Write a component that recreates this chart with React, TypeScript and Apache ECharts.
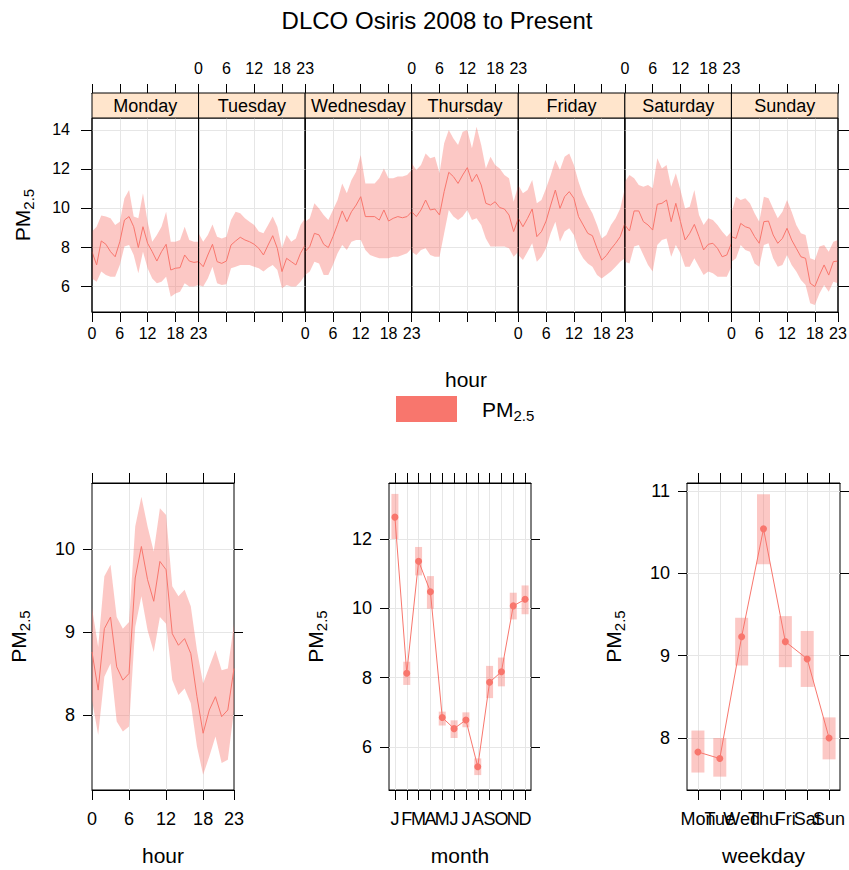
import React, { useEffect, useRef } from 'react';
import * as echarts from 'echarts';

// ---------------- data ----------------
const dayNames = ['Monday', 'Tuesday', 'Wednesday', 'Thursday', 'Friday', 'Saturday', 'Sunday'];
const hourLabels = ['0','1','2','3','4','5','6','7','8','9','10','11','12','13','14','15','16','17','18','19','20','21','22','23'];
const monthLabels = ['J','F','M','A','M','J','J','A','S','O','N','D'];
const monthPos = [1,2,3,4,5,6,7,8,9,10,11,12];
const weekdayLabels = ['Mon','Tue','Wed','Thu','Fri','Sat','Sun'];
const weekdayPos = [1,2,3,4,5,6,7];

const meanMon = [7.76,7.08,8.31,8.14,7.76,7.50,8.27,9.38,9.56,9.04,7.97,9.04,8.19,7.76,7.28,7.76,8.14,6.82,6.91,6.94,7.59,7.28,7.21,7.25];
const hiMon = [8.79,9.04,9.61,9.56,9.47,9.13,9.30,10.50,10.92,9.56,9.47,10.75,9.30,8.27,8.62,9.04,9.81,8.27,8.27,8.36,9.04,8.36,8.27,8.27];
const loMon = [6.39,6.22,6.74,6.56,6.48,6.48,7.08,8.02,8.10,7.59,6.65,7.76,6.91,6.39,6.14,6.22,6.48,5.45,5.62,5.71,6.14,5.97,5.97,6.05];

const meanTue = [7.25,6.99,7.59,8.14,7.25,7.16,7.28,8.10,8.31,8.50,8.36,8.27,8.14,7.93,7.59,8.10,8.58,7.93,6.74,7.42,7.25,7.08,7.68,8.10];
const hiTue = [8.70,8.27,8.62,9.16,8.53,8.44,8.53,9.38,9.81,9.73,9.47,9.30,9.13,8.79,8.70,9.13,9.56,9.04,7.93,8.62,8.27,8.44,9.13,9.47];
const loTue = [6.05,5.97,6.39,6.99,6.14,6.05,6.09,6.91,6.99,7.08,7.08,7.08,6.99,6.91,6.74,6.94,7.08,6.82,5.88,6.05,5.97,5.97,6.22,6.56];

const meanWed = [7.76,8.02,8.70,8.62,8.14,7.97,8.53,9.16,9.85,9.30,9.81,10.15,10.58,9.56,9.56,9.56,9.38,9.90,9.33,9.47,9.56,9.50,9.56,9.81];
const hiWed = [9.30,9.47,10.24,9.98,9.64,9.38,9.90,10.41,11.26,10.75,11.44,11.86,12.72,11.26,11.26,11.26,11.52,12.03,11.52,11.52,11.61,11.61,11.69,11.95];
const loWed = [6.56,6.74,7.25,7.16,6.56,6.56,7.08,7.68,8.10,7.85,8.27,8.36,8.36,7.85,7.59,7.50,7.42,7.42,7.42,7.50,7.50,7.59,7.68,7.93];

const meanThu = [9.81,9.56,9.90,10.41,9.90,9.95,9.64,10.84,11.83,11.61,11.26,11.69,12.07,11.35,11.73,11.18,10.24,10.15,10.32,10.02,9.95,9.64,8.79,9.47];
const hiThu = [12.29,11.95,12.21,12.80,12.55,12.63,11.78,13.32,14.00,13.57,13.23,13.91,14.00,13.06,14.17,13.23,12.03,12.63,12.21,12.03,11.69,11.52,10.32,11.18];
const loThu = [7.76,7.59,7.85,7.93,7.59,7.50,7.50,8.70,9.90,9.56,9.38,9.56,9.90,9.38,9.47,9.13,8.44,8.02,8.02,8.02,8.02,7.93,7.50,7.76];

const meanFri = [9.47,9.04,9.47,9.95,8.53,8.79,9.33,10.15,10.92,9.98,10.58,10.84,10.50,9.56,9.13,8.70,8.58,7.93,7.33,7.56,7.90,8.19,8.53,9.21];
const hiFri = [11.18,10.75,10.92,11.44,10.24,10.41,11.01,11.69,12.46,11.95,12.63,12.80,12.21,11.35,10.67,10.15,9.73,9.13,8.44,8.62,9.13,9.47,9.98,11.01];
const loFri = [7.59,7.33,7.76,8.19,7.25,7.50,7.93,8.70,9.30,8.27,8.79,8.96,8.62,7.85,7.42,7.16,6.99,6.56,6.39,6.56,6.74,6.99,7.25,7.42];

const meanSat = [9.13,8.82,9.85,9.85,9.30,9.13,8.87,10.19,10.24,10.41,9.30,10.24,9.30,8.36,8.70,9.16,8.53,7.85,8.14,8.19,7.93,7.50,7.59,8.19];
const hiSat = [11.35,11.69,11.52,11.18,11.09,11.18,11.01,12.55,12.03,12.21,11.09,11.78,10.92,9.98,10.07,10.92,9.64,9.13,9.47,9.38,9.13,8.79,8.53,8.79];
const loSat = [7.25,7.16,8.02,8.10,7.59,7.08,6.74,8.10,8.36,8.44,7.50,8.10,7.68,6.99,6.99,7.42,6.99,6.56,6.74,6.65,6.48,6.48,6.48,6.99];

const meanSun = [8.53,8.44,9.21,9.04,8.96,8.53,8.19,9.30,9.33,8.62,8.19,8.44,8.96,8.36,7.93,7.50,7.42,6.14,5.97,6.56,7.08,6.56,7.25,7.28];
const hiSun = [9.73,10.58,10.41,10.50,10.24,9.73,9.30,10.58,10.50,9.98,9.47,9.81,10.41,9.81,9.13,8.70,8.62,7.42,7.33,8.02,8.10,7.76,8.27,8.36];
const loSun = [7.25,7.42,8.10,7.85,7.76,7.16,6.99,8.10,8.19,7.42,6.99,7.08,7.59,7.08,6.74,6.31,6.05,5.11,5.03,5.62,6.05,5.71,6.22,6.14];

const hourMean = [8.76,8.30,9.04,9.18,8.58,8.42,8.50,9.65,10.03,9.63,9.37,9.85,9.75,8.98,8.84,8.92,8.74,8.22,7.78,8.06,8.22,7.98,8.06,8.56];
const hourHi = [9.29,8.82,9.67,9.81,9.18,9.04,9.12,10.27,10.63,10.27,9.97,10.49,10.41,9.55,9.43,9.51,9.31,8.78,8.38,8.58,8.78,8.54,8.56,9.10];
const hourLo = [8.18,7.76,8.46,8.62,7.92,7.80,7.86,9.06,9.43,9.02,8.76,9.18,9.10,8.42,8.24,8.32,8.14,7.62,7.28,7.50,7.74,7.42,7.46,8.06];

const monthMean = [12.63,8.13,11.36,10.48,6.85,6.53,6.78,5.43,7.87,8.17,10.07,10.26];
const monthHi = [13.30,8.46,11.77,10.93,7.02,6.77,7.00,5.67,8.34,8.58,10.45,10.66];
const monthLo = [12.00,7.79,10.95,9.99,6.62,6.26,6.57,5.19,7.41,7.75,9.68,9.83];

const weekdayMean = [7.83,7.75,9.23,10.54,9.17,8.96,8.00];
const weekdayHi = [8.09,8.00,9.46,10.96,9.48,9.30,8.25];
const weekdayLo = [7.58,7.53,8.88,10.11,8.86,8.62,7.74];

const topYTicks = [6, 8, 10, 12, 14];
const hourYTicks = [8, 9, 10];
const monthYTicks = [6, 8, 10, 12];
const weekdayYTicks = [8, 9, 10, 11];

const dayMeans = [meanMon, meanTue, meanWed, meanThu, meanFri, meanSat, meanSun];
const dayHis = [hiMon, hiTue, hiWed, hiThu, hiFri, hiSat, hiSun];
const dayLos = [loMon, loTue, loWed, loThu, loFri, loSat, loSun];

// ---------------- style ----------------
const FONT = '"Liberation Sans", Arial, Helvetica, sans-serif';
const LINE = '#F8766D';
const BAND = 'rgba(248,118,109,0.4)';
const GRIDC = '#E6E6E6';
const BLACK = '#000000';

const hourTickFn = (idx: number) => idx % 6 === 0 || idx === 23;
const hourSplitFn = (idx: number) => idx === 6 || idx === 12 || idx === 18;

function pmRich(size: number, sub: number) {
  return {
    m: { fontSize: size, fontFamily: FONT, color: BLACK, lineHeight: size + 6 },
    s: { fontSize: sub, fontFamily: FONT, color: BLACK, lineHeight: sub, verticalAlign: 'bottom' },
  };
}
const PM = '{m|PM}{s|2.5}';

function buildOption() {
  const grids: any[] = [];
  const xAxes: any[] = [];
  const yAxes: any[] = [];
  const series: any[] = [];
  const graphic: any[] = [];

  const tick = (len: number) => ({ show: true, inside: false, length: len, lineStyle: { color: BLACK, width: 1 } });
  const axLine = { show: true, onZero: false, lineStyle: { color: BLACK, width: 1 } };

  // ---- top: day x hour panels ----
  const L = 92, R = 838, TOP = 118, H = 194;
  const W = (R - L) / 7;
  for (let i = 0; i < 7; i++) {
    const gi = grids.length;
    grids.push({ left: L + i * W, top: TOP, width: W, height: H, show: true, borderColor: BLACK, borderWidth: 1,
      backgroundColor: 'transparent', outerBoundsMode: 'none', containLabel: false });
    const xb = xAxes.length;
    xAxes.push({
      gridIndex: gi, type: 'category', data: hourLabels, boundaryGap: false, position: 'bottom',
      axisLine: axLine, axisTick: { ...tick(10), interval: hourTickFn },
      axisLabel: { show: i % 2 === 0, interval: hourTickFn, margin: 13, color: BLACK, fontSize: 16, fontFamily: FONT,
        hideOverlap: false, showMinLabel: true, showMaxLabel: true },
      splitLine: { show: true, interval: hourSplitFn, lineStyle: { color: GRIDC, width: 1 } },
    });
    xAxes.push({
      gridIndex: gi, type: 'category', data: hourLabels, boundaryGap: false, position: 'top', offset: 25,
      axisLine: axLine, axisTick: { ...tick(9), interval: hourTickFn },
      axisLabel: { show: i % 2 === 1, interval: hourTickFn, margin: 17, color: BLACK, fontSize: 16, fontFamily: FONT,
        hideOverlap: false, showMinLabel: true, showMaxLabel: true },
      splitLine: { show: false },
    });
    const yi = yAxes.length;
    yAxes.push({
      gridIndex: gi, type: 'value', min: 4.667, max: 14.615, position: i === 6 ? 'right' : 'left',
      axisLine: { show: false },
      axisTick: { ...tick(11), show: i === 0 || i === 6, customValues: topYTicks },
      axisLabel: { show: i === 0, customValues: topYTicks, margin: 22, color: BLACK, fontSize: 16, fontFamily: FONT,
        showMinLabel: true, showMaxLabel: true },
      splitLine: { show: true, lineStyle: { color: GRIDC, width: 1 } },
      name: i === 0 ? PM : '', nameLocation: 'middle', nameRotate: 90, nameGap: 56,
      nameTextStyle: { rich: pmRich(21, 15) },
    });
    const lo = dayLos[i], hi = dayHis[i], mean = dayMeans[i];
    series.push({ type: 'line', xAxisIndex: xb, yAxisIndex: yi, data: lo, stack: 'band' + i, symbol: 'none',
      lineStyle: { opacity: 0 }, silent: true });
    series.push({ type: 'line', xAxisIndex: xb, yAxisIndex: yi, data: hi.map((v, k) => +(v - lo[k]).toFixed(3)),
      stack: 'band' + i, symbol: 'none', lineStyle: { opacity: 0 }, areaStyle: { color: BAND, opacity: 1 }, silent: true });
    series.push({ type: 'line', xAxisIndex: xb, yAxisIndex: yi, data: mean, symbol: 'none',
      lineStyle: { color: LINE, width: 1 }, silent: true });

    // strip
    graphic.push({ type: 'rect', shape: { x: L + i * W, y: 93, width: W, height: 25 },
      style: { fill: '#FFE5CC', stroke: BLACK, lineWidth: 1 }, z: 10 });
    graphic.push({ type: 'text', x: L + i * W + W / 2, y: 106,
      style: { text: dayNames[i], fill: BLACK, fontSize: 18, fontFamily: FONT, align: 'center', verticalAlign: 'middle' }, z: 11 });
  }
  // black panel separators on top of fills
  for (let i = 0; i <= 7; i++) {
    graphic.push({ type: 'line', shape: { x1: L + i * W, y1: TOP, x2: L + i * W, y2: TOP + H },
      style: { stroke: BLACK, lineWidth: 1 }, z: 12, silent: true });
  }

  // ---- bottom panels ----
  const BT = 483, BH = 307;
  // bottom axis: labelled axis; top axis: mirror (ticks only)
  function addPanel(opt: {
    left: number; width: number; bottom: any; top: any; xName: string;
    ymin: number; ymax: number; yTicks: number[];
  }) {
    const gi = grids.length;
    grids.push({ left: opt.left, top: BT, width: opt.width, height: BH, show: true, borderColor: BLACK, borderWidth: 1,
      backgroundColor: 'transparent', outerBoundsMode: 'none', containLabel: false });
    const xb = xAxes.length;
    xAxes.push({
      gridIndex: gi, position: 'bottom', ...opt.bottom.base,
      axisLine: axLine,
      axisTick: { ...tick(10), ...(opt.bottom.tick || {}) },
      axisLabel: { margin: 20, color: BLACK, fontSize: 18, fontFamily: FONT, hideOverlap: false,
        showMinLabel: true, showMaxLabel: true, ...(opt.bottom.label || {}) },
      splitLine: { show: false, lineStyle: { color: GRIDC, width: 1 }, ...(opt.bottom.split || {}) },
      name: opt.xName, nameLocation: 'middle', nameGap: 55,
      nameTextStyle: { color: BLACK, fontSize: 21, fontFamily: FONT },
    });
    const xt = xAxes.length;
    xAxes.push({
      gridIndex: gi, position: 'top', ...opt.top.base,
      axisLine: axLine,
      axisTick: { ...tick(10), ...(opt.top.tick || {}) },
      axisLabel: { show: false, ...(opt.top.label || {}) },
      splitLine: { show: false, lineStyle: { color: GRIDC, width: 1 }, ...(opt.top.split || {}) },
    });
    const yi = yAxes.length;
    yAxes.push({
      gridIndex: gi, type: 'value', min: opt.ymin, max: opt.ymax, position: 'left',
      axisLine: { show: false },
      axisTick: { ...tick(9), customValues: opt.yTicks },
      axisLabel: { customValues: opt.yTicks, margin: 17, color: BLACK, fontSize: 18, fontFamily: FONT,
        showMinLabel: true, showMaxLabel: true },
      splitLine: { show: true, lineStyle: { color: GRIDC, width: 1 } },
      name: PM, nameLocation: 'middle', nameRotate: 90, nameGap: 60,
      nameTextStyle: { rich: pmRich(21, 15) },
    });
    yAxes.push({
      gridIndex: gi, type: 'value', min: opt.ymin, max: opt.ymax, position: 'right',
      axisLine: { show: false },
      axisTick: { ...tick(9), customValues: opt.yTicks },
      axisLabel: { show: false, customValues: opt.yTicks },
      splitLine: { show: false },
    });
    return { xb, xt, yi };
  }

  // hour panel
  const hourAxis = { type: 'category', data: hourLabels, boundaryGap: false };
  const hp = addPanel({
    left: 92, width: 142, xName: 'hour', ymin: 7.096, ymax: 10.795, yTicks: hourYTicks,
    bottom: { base: hourAxis, tick: { interval: hourTickFn }, label: { interval: hourTickFn },
      split: { show: true, interval: hourSplitFn } },
    top: { base: hourAxis, tick: { interval: hourTickFn } },
  });
  series.push({ type: 'line', xAxisIndex: hp.xb, yAxisIndex: hp.yi, data: hourLo, stack: 'hb', symbol: 'none',
    lineStyle: { opacity: 0 }, silent: true });
  series.push({ type: 'line', xAxisIndex: hp.xb, yAxisIndex: hp.yi, data: hourHi.map((v, k) => +(v - hourLo[k]).toFixed(3)),
    stack: 'hb', symbol: 'none', lineStyle: { opacity: 0 }, areaStyle: { color: BAND, opacity: 1 }, silent: true });
  series.push({ type: 'line', xAxisIndex: hp.xb, yAxisIndex: hp.yi, data: hourMean, symbol: 'none',
    lineStyle: { color: LINE, width: 1 }, silent: true });

  const errBar = (w: number) => (params: any, api: any) => {
    const x = api.value(0);
    const a = api.coord([x, api.value(1)]);
    const b = api.coord([x, api.value(2)]);
    return { type: 'rect', shape: { x: a[0] - w / 2, y: b[1], width: w, height: a[1] - b[1] }, style: { fill: BAND } };
  };

  // month panel: bottom = category axis for labels, top = value axis carrying series & grid lines
  const mp = addPanel({
    left: 389, width: 142, xName: 'month', ymin: 4.76, ymax: 13.615, yTicks: monthYTicks,
    bottom: { base: { type: 'category', data: monthLabels, boundaryGap: true },
      tick: { alignWithLabel: true, interval: 0 }, label: { interval: 0 } },
    top: { base: { type: 'value', min: 0.5, max: 12.5 }, tick: { customValues: monthPos },
      label: { customValues: monthPos }, split: { show: true } },
  });
  series.push({ type: 'custom', xAxisIndex: mp.xt, yAxisIndex: mp.yi, renderItem: errBar(7),
    data: monthPos.map((p, k) => [p, monthLo[k], monthHi[k]]), encode: { x: 0, y: [1, 2] }, silent: true });
  series.push({ type: 'line', xAxisIndex: mp.xt, yAxisIndex: mp.yi, data: monthPos.map((p, k) => [p, monthMean[k]]),
    symbol: 'circle', symbolSize: 7, itemStyle: { color: LINE }, lineStyle: { color: LINE, width: 1 }, silent: true });

  // weekday panel
  const wp = addPanel({
    left: 687, width: 153, xName: 'weekday', ymin: 7.368, ymax: 11.097, yTicks: weekdayYTicks,
    bottom: { base: { type: 'category', data: weekdayLabels, boundaryGap: true },
      tick: { alignWithLabel: true, interval: 0 }, label: { interval: 0 } },
    top: { base: { type: 'value', min: 0.5, max: 7.5 }, tick: { customValues: weekdayPos },
      label: { customValues: weekdayPos }, split: { show: true } },
  });
  series.push({ type: 'custom', xAxisIndex: wp.xt, yAxisIndex: wp.yi, renderItem: errBar(13),
    data: weekdayPos.map((p, k) => [p, weekdayLo[k], weekdayHi[k]]), encode: { x: 0, y: [1, 2] }, silent: true });
  series.push({ type: 'line', xAxisIndex: wp.xt, yAxisIndex: wp.yi, data: weekdayPos.map((p, k) => [p, weekdayMean[k]]),
    symbol: 'circle', symbolSize: 7, itemStyle: { color: LINE }, lineStyle: { color: LINE, width: 1 }, silent: true });

  // title, top x name, legend
  graphic.push({ type: 'text', x: 437, y: 20,
    style: { text: 'DLCO Osiris 2008 to Present', fill: BLACK, fontSize: 24, fontFamily: FONT,
      align: 'center', verticalAlign: 'middle' } });
  graphic.push({ type: 'text', x: 466, y: 379,
    style: { text: 'hour', fill: BLACK, fontSize: 21, fontFamily: FONT, align: 'center', verticalAlign: 'middle' } });
  graphic.push({ type: 'rect', shape: { x: 396, y: 396, width: 61, height: 26 }, style: { fill: LINE } });
  graphic.push({ type: 'text', x: 482, y: 409,
    style: { text: PM, rich: pmRich(21, 15), fill: BLACK, fontFamily: FONT, align: 'left', verticalAlign: 'middle' } });

  return {
    animation: false,
    backgroundColor: '#ffffff',
    textStyle: { fontFamily: FONT },
    grid: grids,
    xAxis: xAxes,
    yAxis: yAxes,
    series,
    graphic,
  };
}

export default function App() {
  const ref = useRef<HTMLDivElement>(null);
  useEffect(() => {
    if (!ref.current) return;
    const chart = echarts.init(ref.current, null, { renderer: 'svg' });
    chart.setOption(buildOption() as any);
    return () => chart.dispose();
  }, []);
  return (
    <div
      ref={ref}
      style={{ position: 'fixed', left: 0, top: 0, width: 849, height: 870, background: '#fff' }}
    />
  );
}
